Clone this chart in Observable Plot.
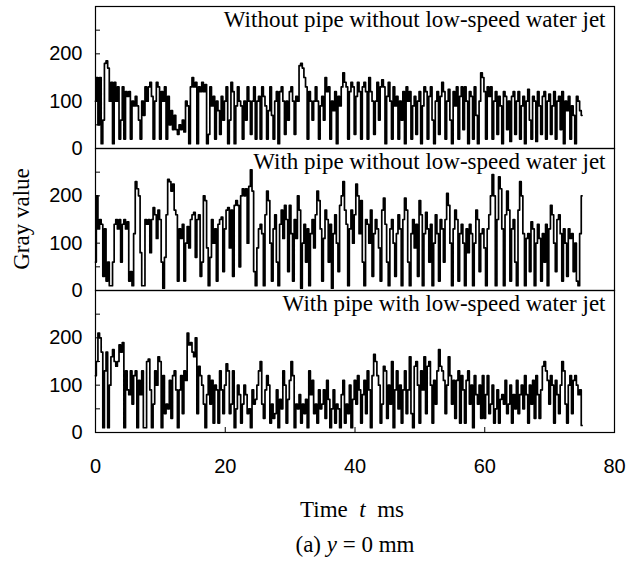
<!DOCTYPE html>
<html><head><meta charset="utf-8">
<script src="https://cdn.jsdelivr.net/npm/d3@7"></script>
<script src="https://cdn.jsdelivr.net/npm/@observablehq/plot@0.6"></script>
<style>
body{margin:0;background:#fff;}
#wrap{position:relative;width:630px;height:563px;background:#fff;}
.serif{font-family:"Liberation Serif","Times New Roman",serif;color:#000;position:absolute;white-space:pre;font-size:23px;}
#ylab{left:22px;top:219px;transform:translate(-50%,-50%) rotate(-90deg);}
#xlab{left:352px;top:510px;transform:translate(-50%,-50%);}
#cap{left:355px;top:545px;transform:translate(-50%,-50%);}
</style></head>
<body><div id="wrap"><div id="chart"></div>
<div id="ylab" class="serif">Gray value</div>
<div id="xlab" class="serif">Time  <i>t</i>  ms</div>
<div id="cap" class="serif">(a) <i>y</i> = 0 mm</div>
</div>
<script>
const series = ["noPipeNoJet", "pipeNoJet", "pipeJet"];
const titles = ["Without pipe without low-speed water jet", "With pipe without low-speed water jet", "With pipe with low-speed water jet"];
const stepMs = 0.25;
const noPipeNoJet = [
 100,150,50,150,10,60,180,185,170,100,140,10,140,100,130,20,60,130,20,120,
 110,120,20,100,90,110,90,60,20,100,70,130,100,130,140,110,20,100,140,130,
 20,120,100,130,20,110,50,80,40,70,40,30,50,40,60,35,100,90,10,130,
 150,130,140,10,130,120,140,120,135,10,30,130,90,110,20,100,80,30,110,60,
 100,130,10,60,140,120,10,90,130,100,90,20,100,60,130,100,30,100,130,20,
 100,110,20,130,110,90,20,80,130,70,20,100,120,10,120,130,100,30,100,60,
 120,130,100,30,110,100,175,180,170,150,130,20,120,100,60,100,130,100,20,90,
 110,60,150,120,130,20,100,80,120,10,110,90,130,160,140,130,20,120,140,130,
 30,110,140,120,20,130,140,120,20,150,120,100,30,100,140,60,130,145,130,10,
 110,140,100,20,130,90,110,20,100,60,120,10,130,100,120,20,90,110,30,100,
 120,10,90,130,120,20,110,130,60,10,100,120,30,110,140,120,20,100,125,60,
 10,120,90,130,20,110,130,40,130,100,10,120,110,20,130,70,10,100,160,150,
 120,20,130,110,130,20,100,120,30,110,90,10,120,110,40,100,15,110,120,30,
 100,120,20,90,110,10,100,125,60,20,110,100,15,120,90,30,110,120,20,100,
 115,30,90,120,20,100,110,40,120,10,100,80,110,20,90,70,10,110,100,80,
 70];
const pipeNoJet = [
 60,200,130,150,140,30,130,20,60,10,10,60,140,150,130,150,60,140,150,130,
 145,20,40,10,120,230,215,200,80,10,10,150,140,150,80,150,175,160,110,170,
 150,60,5,70,160,235,230,210,225,170,160,20,130,110,140,20,100,135,90,150,
 160,165,70,150,160,30,60,200,190,90,10,70,150,100,130,20,140,150,155,40,
 130,170,175,90,170,30,180,190,180,50,200,215,200,215,100,220,255,210,40,10,
 90,130,140,120,10,160,210,190,100,20,130,160,60,10,140,170,110,180,150,40,
 180,120,20,150,110,200,170,5,100,140,60,130,10,120,150,90,160,210,190,130,
 20,110,170,150,60,140,5,120,160,100,40,180,200,230,170,140,10,130,170,100,
 160,225,200,120,190,60,10,150,140,100,170,30,120,150,130,90,20,170,195,140,
 60,10,130,150,100,30,120,160,130,10,150,195,170,60,10,120,150,90,140,30,
 190,160,10,120,165,130,60,140,10,100,160,120,20,150,130,60,150,205,180,100,
 10,130,170,150,20,120,140,100,10,130,80,140,120,10,100,170,150,40,120,130,
 90,10,130,160,200,245,200,10,150,240,215,130,10,160,210,170,20,130,150,60,
 10,170,230,200,120,10,110,120,40,145,130,10,100,140,110,20,120,60,140,10,
 130,180,160,100,40,150,160,120,20,130,100,30,130,110,120,40,100,20,10,120,
 200];
const pipeJet = [
 120,150,210,200,170,10,130,170,10,100,160,175,150,140,150,185,170,190,10,130,
 90,80,130,60,120,130,10,110,80,130,10,10,150,155,90,10,60,130,100,160,
 150,10,120,40,60,50,110,30,120,130,90,10,90,120,40,130,110,210,185,190,
 170,160,200,40,140,120,100,60,10,80,120,60,110,20,100,90,20,130,90,40,
 100,145,130,40,60,130,10,50,100,80,20,60,100,80,40,50,10,90,60,70,
 100,130,150,60,30,90,120,100,20,60,30,40,90,10,70,50,130,100,20,70,
 110,150,120,10,60,50,80,20,60,40,70,10,130,80,110,40,60,20,90,50,
 60,90,30,110,70,10,50,90,20,60,50,10,80,110,20,60,40,100,10,70,
 110,60,120,90,20,80,110,40,130,90,10,120,165,150,120,100,20,60,140,130,
 30,100,60,150,10,90,130,50,100,20,90,130,40,90,160,40,10,140,150,100,
 20,130,90,160,40,140,150,100,20,110,60,130,175,140,130,110,40,100,160,120,
 60,110,30,110,130,20,120,90,20,110,130,60,100,10,120,80,60,100,30,120,
 30,80,120,40,60,100,20,50,90,20,70,80,60,110,40,60,100,20,80,50,
 110,40,80,100,50,120,80,20,100,60,110,30,120,80,30,90,140,150,130,110,
 60,120,100,20,110,80,40,100,150,130,60,20,100,120,40,110,120,100,80,90,
 15];
const yLabelTicks = [0, 100, 200];
const yMinorTicks = [0, 50, 100, 150, 200, 250];
const xTicks = [0, 20, 40, 60, 80];

const data = [noPipeNoJet, pipeNoJet, pipeJet].flatMap((vals, i) =>
  vals.map((v, j) => ({series: series[i], t: j * stepMs, v})));

const chart = Plot.plot({
  width: 630, height: 490,
  marginTop: 5, marginLeft: 95, marginRight: 16, marginBottom: 57,
  x: {domain: [0, 80]},
  y: {domain: [0, 300]},
  fy: {domain: series, padding: 0, axis: null},
  style: {fontFamily: "'Liberation Sans', Arial, sans-serif", fontSize: "20px", color: "#000", background: "#fff", overflow: "visible"},
  marks: [
    Plot.lineY(data, {x: "t", y: "v", fy: "series", curve: "step", stroke: "#000", strokeWidth: 1.7}),
    Plot.frame({stroke: "#000", strokeWidth: 1.2}),
    Plot.axisY({ticks: yMinorTicks, tickSize: 5, dx: 5, tickFormat: () => "", label: null}),
    Plot.axisY({ticks: yLabelTicks, tickSize: 0, tickPadding: 13, label: null}),
    Plot.axisX({ticks: xTicks, tickSize: 5, dy: -5, tickFormat: () => "", label: null}),
    Plot.axisX({ticks: xTicks, tickSize: 0, tickPadding: 26, label: null}),
    Plot.text(titles, {text: d => d, fy: series, frameAnchor: "top-right", textAnchor: "end", lineAnchor: "top", dx: -9, dy: 4, fontFamily: "'Liberation Serif', 'Times New Roman', serif", fontSize: 23, fill: "#000"})
  ]
});
document.getElementById("chart").appendChild(chart);
</script>
</body></html>
